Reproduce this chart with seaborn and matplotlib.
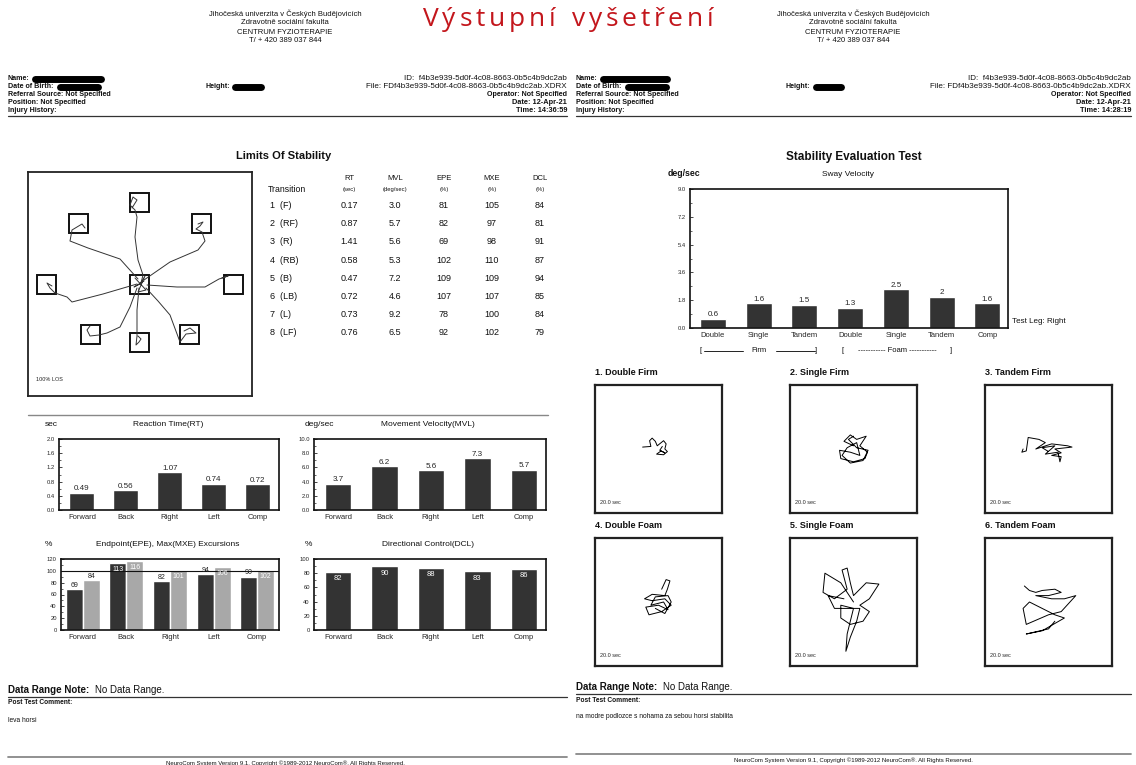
import pandas as pd
import seaborn as sns
import matplotlib.pyplot as plt
from matplotlib.lines import Line2D
from matplotlib.patches import Rectangle

W, H = 1136, 765

# ---- Limits of stability table ----
transitions = ['1  (F)', '2  (RF)', '3  (R)', '4  (RB)', '5  (B)', '6  (LB)', '7  (L)', '8  (LF)']
rt_vals = [0.17, 0.87, 1.41, 0.58, 0.47, 0.72, 0.73, 0.76]
mvl_vals = [3.0, 5.7, 5.6, 5.3, 7.2, 4.6, 9.2, 6.5]
epe_vals = [81, 82, 69, 102, 109, 107, 78, 92]
mxe_vals = [105, 97, 98, 110, 109, 107, 100, 102]
dcl_vals = [84, 81, 91, 87, 94, 85, 84, 79]

# ---- summary bars ----
directions = ['Forward', 'Back', 'Right', 'Left', 'Comp']
rt_summary = [0.49, 0.56, 1.07, 0.74, 0.72]
mvl_summary = [3.7, 6.2, 5.6, 7.3, 5.7]
epe_summary = [69, 113, 82, 94, 90]
mxe_summary = [84, 116, 101, 106, 102]
dcl_summary = [82, 90, 88, 83, 86]

# ---- stability evaluation ----
sway_conditions = ['Double Firm', 'Single Firm', 'Tandem Firm', 'Double Foam',
                   'Single Foam', 'Tandem Foam', 'Comp']
sway_ticklabels = ['Double', 'Single', 'Tandem', 'Double', 'Single', 'Tandem', 'Comp']
sway_velocity = [0.6, 1.6, 1.5, 1.3, 2.5, 2.0, 1.6]
sway_text = ['0.6', '1.6', '1.5', '1.3', '2.5', '2', '1.6']

# LOS targets (page px) and the traced paths to them
los_targets = [(140, 284), (140, 202), (202, 223), (234, 284), (190, 334),
               (140, 342), (91, 334), (47, 284), (79, 223)]
los_paths = [
    [(141, 283), (143, 275), (138, 260), (135, 237), (137, 217), (135, 210), (130, 205), (133, 197), (137, 200), (132, 208)],
    [(144, 280), (170, 262), (198, 250), (205, 241), (202, 232), (196, 229), (200, 226), (203, 222), (198, 224)],
    [(147, 285), (177, 287), (205, 287), (219, 279), (228, 276), (222, 278)],
    [(146, 288), (158, 301), (170, 315), (180, 342), (186, 334), (196, 333), (190, 328), (184, 331)],
    [(139, 288), (137, 310), (137, 336), (136, 345), (139, 342), (141, 339), (138, 336)],
    [(137, 288), (130, 307), (120, 327), (107, 333), (99, 335), (90, 336), (87, 330), (90, 326)],
    [(137, 284), (103, 294), (72, 302), (67, 297), (55, 293), (50, 288), (47, 283), (52, 286)],
    [(138, 279), (120, 259), (88, 248), (70, 241), (72, 230), (82, 224), (85, 228)],
    [(135, 278), (146, 290), (138, 292), (145, 276), (140, 284), (134, 287), (144, 281)],
]

# sway traces, box units (-1..1)
sway_traces = [
    [(-0.25, 0.03), (-0.12, 0.04), (-0.14, 0.13), (-0.1, 0.17), (-0.05, 0.12), (-0.02, 0.05), (0.03, 0.09),
     (0.08, 0.13), (0.12, 0.08), (0.1, 0.0), (0.14, -0.04), (0.08, -0.09), (-0.03, -0.08), (0.04, -0.03),
     (0.1, -0.06), (0.02, -0.02), (0.06, 0.04)],
    [(0.0, 0.05), (-0.15, 0.12), (-0.05, 0.22), (0.05, 0.15), (0.2, 0.2), (0.1, 0.05), (0.22, -0.05),
     (0.18, -0.15), (0.0, -0.2), (-0.2, -0.15), (-0.22, -0.02), (-0.05, -0.05), (0.1, -0.1), (0.05, 0.1),
     (-0.1, 0.02), (-0.18, -0.1), (-0.05, -0.22), (0.15, -0.18), (0.23, -0.02), (0.05, 0.02), (-0.08, 0.15),
     (0.0, 0.2)],
    [(-0.4, 0.0), (-0.42, -0.05), (-0.35, -0.03), (-0.32, 0.18), (-0.15, 0.15), (-0.05, 0.1), (-0.2, 0.0),
     (0.05, 0.08), (0.3, 0.05), (0.37, 0.03), (0.1, 0.0), (0.2, -0.06), (0.05, -0.1), (0.2, -0.12),
     (0.18, -0.2), (0.15, -0.05), (-0.05, -0.08), (0.1, 0.05), (-0.1, 0.02), (0.0, -0.04)],
    [(0.05, 0.2), (0.12, 0.35), (0.18, 0.33), (0.14, 0.2), (0.1, 0.1), (-0.1, 0.12), (-0.22, 0.05),
     (-0.1, 0.02), (0.1, 0.05), (0.2, -0.05), (0.05, -0.15), (-0.15, -0.2), (-0.2, -0.08), (0.0, -0.05),
     (0.15, -0.12), (0.08, 0.0), (-0.12, -0.05), (-0.05, 0.08), (0.15, 0.1), (0.2, 0.0), (0.1, -0.18),
     (-0.05, -0.1)],
    [(0.0, 0.0), (-0.2, 0.3), (-0.45, 0.45), (-0.48, 0.15), (-0.3, 0.05), (-0.1, 0.2), (-0.18, 0.5),
     (-0.1, 0.53), (-0.05, 0.3), (0.0, 0.1), (0.2, 0.3), (0.4, 0.28), (0.25, 0.05), (0.1, -0.05),
     (0.25, -0.15), (0.15, -0.3), (-0.05, -0.35), (-0.2, -0.25), (-0.2, -0.05), (0.0, -0.1), (-0.1, -0.5),
     (-0.12, -0.77), (-0.05, -0.55), (0.05, -0.3), (0.1, -0.1), (-0.3, -0.1), (-0.4, 0.1), (-0.15, 0.05)],
    [(-0.38, 0.25), (-0.3, 0.18), (-0.2, 0.15), (-0.1, 0.18), (0.1, 0.2), (0.2, 0.15), (0.0, 0.1),
     (-0.2, 0.1), (0.05, 0.05), (0.25, 0.05), (0.43, 0.1), (0.2, -0.15), (0.0, -0.2), (-0.35, -0.35),
     (-0.4, -0.1), (-0.3, 0.0), (-0.1, -0.1), (0.1, -0.2), (0.25, -0.25), (-0.1, -0.45), (-0.35, -0.5),
     (0.0, -0.42), (0.1, -0.3)],
]
sway_titles = ['1. Double Firm', '2. Single Firm', '3. Tandem Firm',
               '4. Double Foam', '5. Single Foam', '6. Tandem Foam']

sns.set_style('white')
plt.rcParams['font.family'] = ['Liberation Sans', 'DejaVu Sans']

DARK = '#333333'
LIGHT = '#a8a8a8'

fig = plt.figure(figsize=(11.36, 7.65), dpi=100)
renderer = fig.canvas.get_renderer()


def rect(x0, y0, x1, y1):
    return [x0 / W, 1 - y1 / H, (x1 - x0) / W, (y1 - y0) / H]


def T(x, y, s, **kw):
    kw.setdefault('va', 'center')
    kw.setdefault('fontsize', 5.5)
    kw.setdefault('color', '#111111')
    return fig.text(x / W, 1 - y / H, s, **kw)


def spaced(x0, x1, y, s, **kw):
    # letter-spaced title: measure glyphs, spread over the given width
    widths = []
    for ch in s:
        t = T(0, y, ch if ch != ' ' else 'n', **kw)
        widths.append(t.get_window_extent(renderer).width * (0.6 if ch == ' ' else 1.0))
        t.remove()
    gap = ((x1 - x0) - sum(widths)) / (len(s) - 1)
    x = x0
    for ch, w in zip(s, widths):
        if ch != ' ':
            T(x, y, ch, ha='left', **kw)
        x += w + gap


def hline(x0, x1, y, lw=0.8, color='#555555'):
    fig.add_artist(Line2D([x0 / W, x1 / W], [1 - y / H, 1 - y / H], lw=lw, color=color,
                          transform=fig.transFigure))


def redact(x0, x1, y):
    fig.add_artist(Line2D([x0 / W, x1 / W], [1 - y / H, 1 - y / H], lw=5, color='black',
                          solid_capstyle='round', transform=fig.transFigure))


def header(x0, xr, cx, hx, red, time):
    for yy, s in zip([14, 23, 32, 41], ['Jihočeská univerzita v Českých Budějovicích',
                                        'Zdravotně sociální fakulta', 'CENTRUM FYZIOTERAPIE',
                                        'T/ + 420 389 037 844']):
        T(cx, yy, s, ha='center')
    rows = [78.5, 86.5, 94.5, 102.5, 110.5]
    T(x0, rows[0], 'Name:', weight='bold', fontsize=5.1)
    T(x0, rows[1], 'Date of Birth:', weight='bold', fontsize=5.1)
    T(x0, rows[2], 'Referral Source: Not Specified', weight='bold', fontsize=5.1)
    T(x0, rows[3], 'Position: Not Specified', weight='bold', fontsize=5.1)
    T(x0, rows[4], 'Injury History:', weight='bold', fontsize=5.1)
    T(hx, rows[1], 'Height:', weight='bold', fontsize=5.1)
    redact(*red[0], rows[0])
    redact(*red[1], rows[1])
    redact(*red[2], rows[1])
    T(xr, rows[0], 'ID:  f4b3e939-5d0f-4c08-8663-0b5c4b9dc2ab', ha='right', fontsize=5.8)
    T(xr, rows[1], 'File: FDf4b3e939-5d0f-4c08-8663-0b5c4b9dc2ab.XDRX', ha='right', fontsize=5.8)
    T(xr, rows[2], 'Operator: Not Specified', ha='right', weight='bold', fontsize=5.1)
    T(xr, rows[3], 'Date: 12-Apr-21', ha='right', weight='bold', fontsize=5.3)
    T(xr, rows[4], 'Time: ' + time, ha='right', weight='bold', fontsize=5.3)
    hline(x0, xr, 116, lw=0.9, color='#333333')


header(8, 567, 285, 205, [(35, 101), (60, 98), (235, 261)], '14:36:59')
header(576, 1131, 853, 786, [(603, 667), (628, 666), (816, 841)], '14:28:19')
spaced(423, 713, 20, 'Výstupní vyšetření', fontsize=19, color='#c3161c',
       family=['Open Sans', 'DejaVu Sans'])

# ---- Limits of stability ----
T(284, 156, 'Limits Of Stability', ha='center', fontsize=8, weight='bold')
ax = fig.add_axes(rect(28, 172, 252, 396))
ax.set_xlim(28, 252)
ax.set_ylim(396, 172)
ax.set_xticks([])
ax.set_yticks([])
for sp in ax.spines.values():
    sp.set_linewidth(1.3)
    sp.set_color('#222222')
for cx, cy in los_targets:
    ax.add_patch(Rectangle((cx - 9.5, cy - 9.5), 19, 19, fill=False, lw=1.4, ec='#111111'))
for path in los_paths:
    ax.plot([p[0] for p in path], [p[1] for p in path], color='#333333', lw=0.7,
            solid_joinstyle='round')
ax.text(36, 379, '100% LOS', fontsize=4, va='center')

cols_x = [349, 395, 444, 492, 540]
heads = [('RT', '(sec)'), ('MVL', '(deg/sec)'), ('EPE', '(%)'), ('MXE', '(%)'), ('DCL', '(%)')]
for x, (a, b) in zip(cols_x, heads):
    T(x, 178, a, ha='center', fontsize=5.5)
    T(x, 190, b, ha='center', fontsize=4.2)
T(268, 190, 'Transition', fontsize=6.3)
for i, tr in enumerate(transitions):
    y = 205.5 + i * 18.2
    T(270, y, tr, fontsize=6.5)
    row = [f'{rt_vals[i]:.2f}', f'{mvl_vals[i]:.1f}', str(epe_vals[i]), str(mxe_vals[i]), str(dcl_vals[i])]
    for x, s in zip(cols_x, row):
        T(x, y, s, ha='center', fontsize=6.5)

hline(28, 548, 415, lw=1.0, color='#888888')


def style_bar_axes(ax, ylim, ticks, ticklabels, minor):
    ax.set_ylim(*ylim)
    ax.set_yticks(ticks)
    ax.set_yticklabels(ticklabels, fontsize=4.2)
    ax.set_yticks(minor, minor=True)
    ax.tick_params(axis='y', which='major', direction='in', length=2, width=0.6, pad=3, left=True)
    ax.tick_params(axis='y', which='minor', direction='in', length=1.2, width=0.5, left=True)
    ax.tick_params(axis='x', length=0, labelsize=5.5, pad=3)
    ax.set_xlabel('')
    ax.set_ylabel('')
    for sp in ax.spines.values():
        sp.set_visible(True)
        sp.set_linewidth(1.2)
        sp.set_color('#111111')


def simple_bars(r, values, ylim, ticks, ticklabels, minor, fmt, inside=False):
    ax = fig.add_axes(rect(*r))
    sns.barplot(x=directions, y=values, color=DARK, saturation=1, width=0.57, ax=ax)
    ax.set_xlim(-0.52, 4.48)
    style_bar_axes(ax, ylim, ticks, ticklabels, minor)
    span = ylim[1] - ylim[0]
    for i, v in enumerate(values):
        if inside:
            ax.text(i, v - span * 0.05, fmt(v), ha='center', va='top', fontsize=5.5, color='white')
        else:
            ax.text(i, v + span * 0.005, fmt(v), ha='center', va='bottom', fontsize=5.8)
    return ax


# Reaction time
T(45, 425, 'sec', fontsize=6)
T(168, 425, 'Reaction Time(RT)', ha='center', fontsize=6)
simple_bars((59, 439, 279, 510), rt_summary, (0, 2.0), [0, 0.4, 0.8, 1.2, 1.6, 2.0],
            ['0.0', '0.4', '0.8', '1.2', '1.6', '2.0'], [0.2, 0.6, 1.0, 1.4, 1.8], lambda v: f'{v:.2f}')

# Movement velocity
T(305, 425, 'deg/sec', fontsize=6)
T(428, 425, 'Movement Velocity(MVL)', ha='center', fontsize=6)
simple_bars((314, 439, 546, 510), mvl_summary, (0, 10), [0, 2, 4, 6, 8, 10],
            ['0.0', '2.0', '4.0', '6.0', '8.0', '10.0'], [1, 3, 5, 7, 9], lambda v: f'{v:.1f}')

# Endpoint / max excursions
T(45, 545, '%', fontsize=6)
T(168, 545, 'Endpoint(EPE), Max(MXE) Excursions', ha='center', fontsize=6)
exc = pd.DataFrame({'dir': directions * 2,
                    'measure': ['EPE'] * 5 + ['MXE'] * 5,
                    'value': epe_summary + mxe_summary})
ax = fig.add_axes(rect(61, 559, 279, 630))
sns.barplot(data=exc, x='dir', y='value', hue='measure', palette=[DARK, LIGHT], saturation=1,
            width=0.78, legend=False, ax=ax)
ax.set_xlim(-0.5, 4.5)
style_bar_axes(ax, (0, 120), [0, 20, 40, 60, 80, 100, 120],
               ['0', '20', '40', '60', '80', '100', '120'], [10, 30, 50, 70, 90, 110])
ax.axhline(100, color='#111111', lw=0.8)
for cont, vals in zip(ax.containers, [epe_summary, mxe_summary]):
    for bar, v in zip(cont, vals):
        xc = bar.get_x() + bar.get_width() / 2
        if v >= 100:
            ax.text(xc, v - 5, str(v), ha='center', va='top', fontsize=5, color='white')
        else:
            ax.text(xc, v + 1, str(v), ha='center', va='bottom', fontsize=5)

# Directional control
T(305, 545, '%', fontsize=6)
T(428, 545, 'Directional Control(DCL)', ha='center', fontsize=6)
simple_bars((314, 559, 546, 630), dcl_summary, (0, 100), [0, 20, 40, 60, 80, 100],
            ['0', '20', '40', '60', '80', '100'], [10, 30, 50, 70, 90], lambda v: str(v), inside=True)

# ---- Stability evaluation test ----
T(854, 157, 'Stability Evaluation Test', ha='center', fontsize=8.5, weight='bold')
T(668, 174, 'deg/sec', fontsize=6.3, weight='bold')
T(848, 174, 'Sway Velocity', ha='center', fontsize=6)
ax = fig.add_axes(rect(690, 189, 1008, 328))
sns.barplot(x=sway_conditions, y=sway_velocity, color=DARK, saturation=1, width=0.57, ax=ax)
ax.set_xlim(-0.5, 6.45)
style_bar_axes(ax, (0, 9), [0, 1.8, 3.6, 5.4, 7.2, 9.0],
               ['0.0', '1.8', '3.6', '5.4', '7.2', '9.0'], [0.9, 2.7, 4.5, 6.3, 8.1])
ax.set_xticks(range(len(sway_ticklabels)))
ax.set_xticklabels(sway_ticklabels, fontsize=5.5)
for i, (v, s) in enumerate(zip(sway_velocity, sway_text)):
    ax.text(i, v + 0.05, s, ha='center', va='bottom', fontsize=5.8)
T(1012, 321, 'Test Leg: Right', fontsize=5.8)
T(700, 351, '[', fontsize=5.5)
hline(704, 743, 351, lw=0.7, color='#222222')
T(759, 351, 'Firm', ha='center', fontsize=5.5)
hline(776, 815, 351, lw=0.7, color='#222222')
T(815, 351, ']', fontsize=5.5)
T(842, 351, '[', fontsize=5.5)
T(897, 351, '----------- Foam -----------', ha='center', fontsize=5.5)
T(950, 351, ']', fontsize=5.5)

box_x = [595, 790, 985]
box_y = [385, 538]
for k, (title, trace) in enumerate(zip(sway_titles, sway_traces)):
    bx = box_x[k % 3]
    by = box_y[k // 3]
    T(bx, by - 13, title, fontsize=6.5, weight='bold')
    a = fig.add_axes(rect(bx, by, bx + 127, by + 128))
    a.set_xlim(-1, 1)
    a.set_ylim(-1, 1)
    a.set_xticks([])
    a.set_yticks([])
    for sp in a.spines.values():
        sp.set_linewidth(1.6)
        sp.set_color('#222222')
    a.plot([p[0] for p in trace], [p[1] for p in trace], color='black', lw=0.7,
           solid_joinstyle='round')
    a.text(0.04, 0.08, '20.0 sec', transform=a.transAxes, fontsize=4, va='center')

# ---- bottom notes ----
for x0, xr, yb, comment, cx in [(8, 567, 690, 'leva horsi', 285),
                                (576, 1131, 687, 'na modre podlozce s nohama za sebou horsi stabilita', 853)]:
    T(x0, yb, 'Data Range Note:', fontsize=7, weight='bold')
    T(x0 + 87, yb, 'No Data Range.', fontsize=7)
    hline(x0, xr, yb + 7, lw=0.9, color='#333333')
    T(x0, yb + 13, 'Post Test Comment:', fontsize=4.8, weight='bold')
    T(x0, yb + 30, comment, fontsize=4.8)
    hline(x0, xr, yb + 67, lw=1.3, color='#888888')
    T(cx, yb + 73, 'NeuroCom System Version 9.1, Copyright ©1989-2012 NeuroCom®. All Rights Reserved.',
      ha='center', fontsize=4.3)

fig.savefig('out.png', dpi=100, facecolor='white')
